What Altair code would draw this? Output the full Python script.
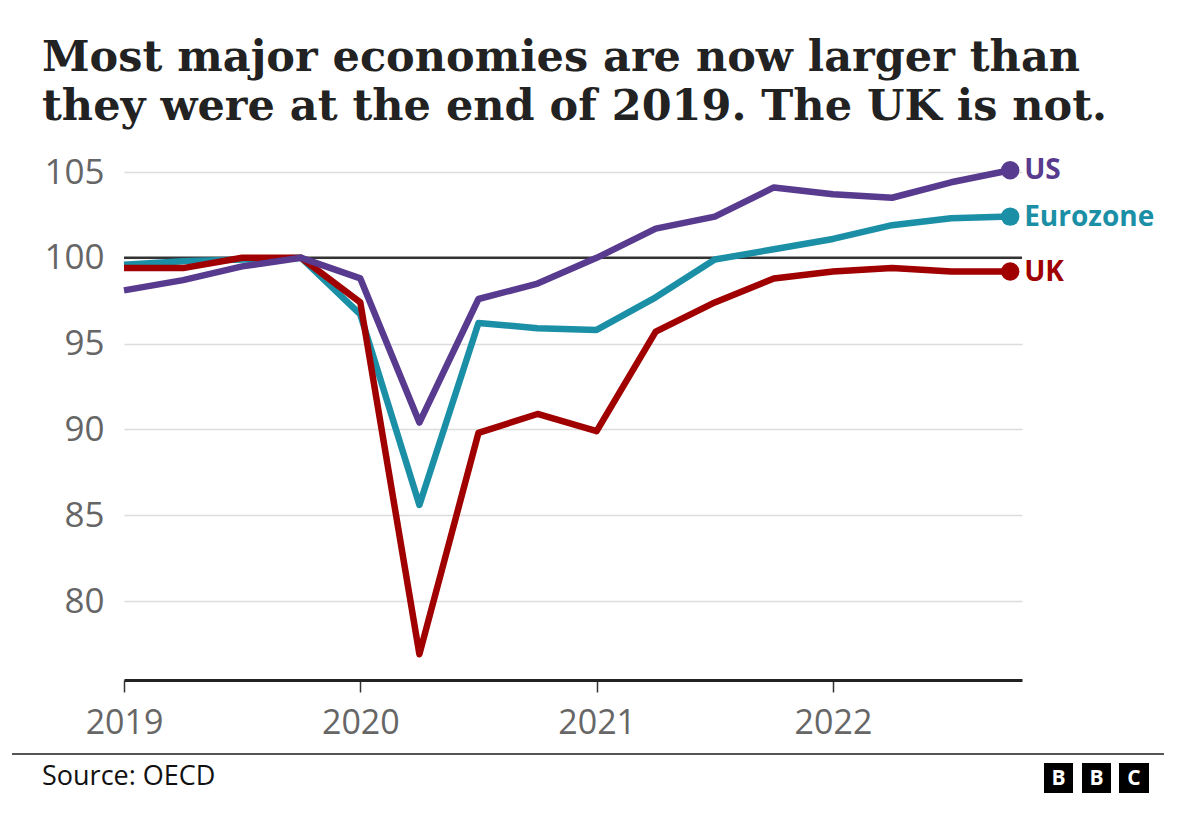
import altair as alt
import pandas as pd

quarters = [2019.0, 2019.25, 2019.5, 2019.75,
            2020.0, 2020.25, 2020.5, 2020.75,
            2021.0, 2021.25, 2021.5, 2021.75,
            2022.0, 2022.25, 2022.5, 2022.75]
us = [98.1, 98.7, 99.5, 100.0, 98.8, 90.4, 97.6, 98.5,
      100.0, 101.7, 102.4, 104.1, 103.7, 103.5, 104.4, 105.1]
eurozone = [99.6, 99.8, 99.9, 100.0, 96.7, 85.6, 96.2, 95.9,
            95.8, 97.7, 99.9, 100.5, 101.1, 101.9, 102.3, 102.4]
uk = [99.4, 99.4, 100.0, 100.0, 97.4, 76.9, 89.8, 90.9,
      89.9, 95.7, 97.4, 98.8, 99.2, 99.4, 99.2, 99.2]

series_names = ["US", "Eurozone", "UK"]
series_colors = ["#583a8e", "#1b8fa6", "#a00000"]
draw_order = ["Eurozone", "UK", "US"]

year_ticks = [2019, 2020, 2021, 2022]
y_ticks = [80, 85, 90, 95, 100, 105]
baseline_value = [100]

title_lines = ["Most major economies are now larger than",
               "they were at the end of 2019. The UK is not."]
source_text = "Source: OECD"
logo_letters = ["B", "B", "C"]

rows = []
for name, vals in zip(series_names, [us, eurozone, uk]):
    for q, v in zip(quarters, vals):
        rows.append({"quarter": q, "value": v, "series": name})
df = pd.DataFrame(rows)
last_q = quarters[-1]

x_enc = alt.X("quarter:Q",
              scale=alt.Scale(domain=[2019, 2022.8], nice=False, zero=False),
              axis=alt.Axis(values=year_ticks, format="d", title=None, grid=False,
                            domain=True, domainColor="#222", domainWidth=3,
                            ticks=True, tickSize=12, tickColor="#333", tickWidth=1.5,
                            labelFont="Open Sans", labelFontSize=34, labelColor="#666",
                            labelPadding=14, labelFlush=False))
y_enc = alt.Y("value:Q",
              scale=alt.Scale(domain=[75.4, 105], nice=False, zero=False),
              axis=alt.Axis(values=y_ticks, title=None, grid=True,
                            gridColor="#dcdcdc", gridWidth=1.5,
                            domain=False, ticks=False,
                            labelFont="Open Sans", labelFontSize=35, labelColor="#666",
                            labelPadding=20))
color_enc = alt.Color("series:N",
                      scale=alt.Scale(domain=series_names, range=series_colors),
                      legend=None)

base = alt.Chart(df)

layers = []
layers.append(
    alt.Chart(pd.DataFrame({"y": baseline_value}))
    .mark_rule(color="#333", strokeWidth=2.5)
    .encode(y=alt.Y("y:Q", scale=alt.Scale(domain=[75.4, 105], nice=False, zero=False)))
)
for name in draw_order:
    layers.append(
        base.transform_filter(alt.datum.series == name)
        .mark_line(strokeWidth=6.5, strokeJoin="round")
        .encode(x=x_enc, y=y_enc, color=color_enc)
    )
last = base.transform_filter(alt.datum.quarter == last_q)
layers.append(last.mark_circle(size=340, opacity=1).encode(x=x_enc, y=y_enc, color=color_enc))
layers.append(
    last.mark_text(align="left", baseline="middle", dx=14, dy=1, font="Open Sans",
                   fontSize=28, fontWeight="bold")
    .encode(x=x_enc, y=y_enc, color=color_enc, text="series:N")
)

one = pd.DataFrame({"a": [0]})
# footer rule
layers.append(
    alt.Chart(one).mark_rule(color="#555", strokeWidth=2)
    .encode(x=alt.value(-112), x2=alt.value(1040), y=alt.value(582))
)
layers.append(
    alt.Chart(one).mark_text(align="left", baseline="middle", font="Open Sans",
                             fontSize=27, color="#111", text=source_text)
    .encode(x=alt.value(-82), y=alt.value(605))
)
logo_x = [(920, 949), (958, 987), (995, 1025)]
for (x0, x1), letter in zip(logo_x, logo_letters):
    layers.append(
        alt.Chart(one).mark_rect(color="#000")
        .encode(x=alt.value(x0), x2=alt.value(x1), y=alt.value(591), y2=alt.value(621))
    )
    layers.append(
        alt.Chart(one).mark_text(align="center", baseline="middle", font="Open Sans",
                                 fontSize=21, fontWeight="bold", color="#fff", text=letter)
        .encode(x=alt.value((x0 + x1) / 2), y=alt.value(607))
    )

chart = alt.layer(*layers).properties(
    width=898,
    height=508,
    autosize=alt.AutoSizeParams(type="none"),
    padding={"left": 116, "top": 164, "right": 170, "bottom": 129},
    title=alt.TitleParams(
        text=title_lines, anchor="start", frame="group", dx=-82, offset=26,
        font="DejaVu Serif", fontSize=43, fontWeight="bold", color="#222",
        lineHeight=49,
    ),
    background="#ffffff",
).configure_view(stroke=None)

chart.save("out.html", embed_options={"renderer": "svg", "actions": False})
